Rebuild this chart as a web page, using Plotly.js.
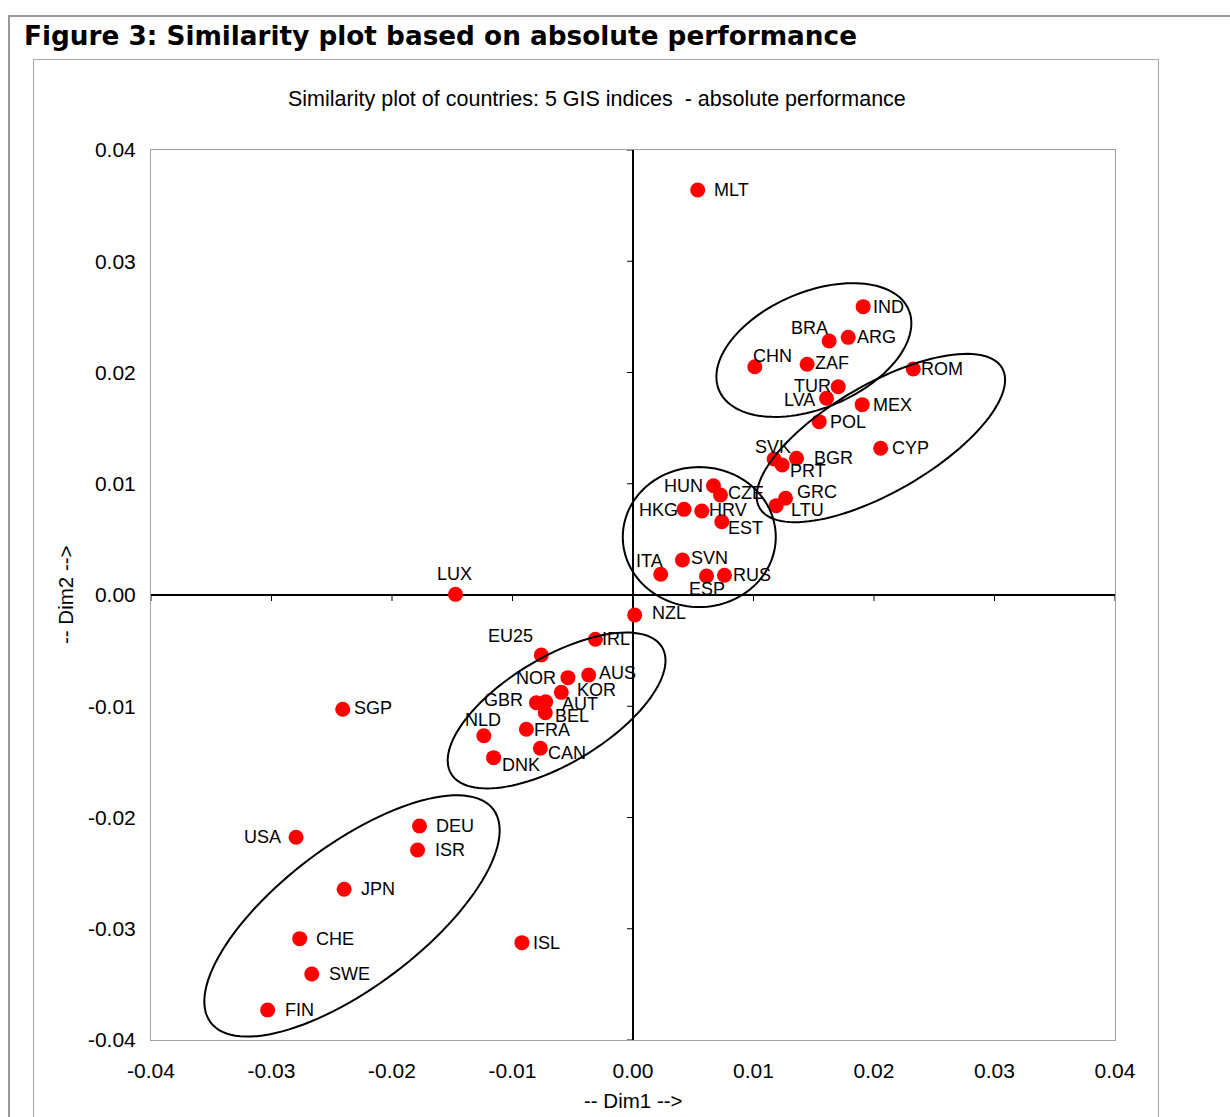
<!DOCTYPE html>
<html>
<head>
<meta charset="utf-8">
<script src="https://cdn.plot.ly/plotly-3.0.1.min.js"></script>
<style>
  html, body { margin: 0; padding: 0; background: #ffffff; }
  #wrap { position: relative; width: 1230px; height: 1117px; overflow: hidden; background: #fff; }
  #outer { position: absolute; left: 8px; top: 15px; width: 1300px; height: 1300px;
           border-top: 2px solid #9a9a9a; border-left: 2px solid #9a9a9a; }
  #box { position: absolute; left: 33px; top: 59px; width: 1124px; height: 1300px;
         border: 1.5px solid #a6a6a6; }
  #plot { position: absolute; left: 0; top: 0; width: 1230px; height: 1117px; }
</style>
</head>
<body>
<div id="wrap">
  <div id="outer"></div>
  <div id="box"></div>
  <div id="plot"></div>
</div>
<script>
// ---- data ----
const countries = ["MLT","IND","BRA","ARG","CHN","ZAF","TUR","LVA","ROM","MEX","POL","CYP",
  "SVK","BGR","PRT","HUN","CZE","GRC","LTU","HKG","HRV","EST","ITA","SVN","ESP","RUS",
  "LUX","NZL","IRL","EU25","NOR","AUS","KOR","GBR","AUT","BEL","NLD","FRA","CAN","DNK",
  "SGP","USA","DEU","ISR","JPN","CHE","SWE","FIN","ISL"];
const dim1 = [0.00537,0.01910,0.01628,0.01786,0.01011,0.01445,0.01703,0.01606,0.02326,0.01902,0.01545,0.02055,
  0.01171,0.01357,0.01238,0.00668,0.00726,0.01266,0.01188,0.00424,0.00571,0.00737,0.00230,0.00410,0.00610,0.00759,
  -0.01473,0.00014,-0.00312,-0.00761,-0.00540,-0.00368,-0.00595,-0.00802,-0.00725,-0.00728,-0.01238,-0.00885,-0.00769,-0.01157,
  -0.02409,-0.02796,-0.01772,-0.01788,-0.02397,-0.02766,-0.02666,-0.03032,-0.00922];
const dim2 = [0.03640,0.02592,0.02283,0.02316,0.02052,0.02074,0.01872,0.01768,0.02031,0.01711,0.01558,0.01319,
  0.01222,0.01229,0.01169,0.00982,0.00899,0.00869,0.00803,0.00770,0.00755,0.00659,0.00186,0.00315,0.00171,0.00177,
  0.00006,-0.00180,-0.00398,-0.00539,-0.00743,-0.00719,-0.00875,-0.00968,-0.00959,-0.01058,-0.01265,-0.01207,-0.01378,-0.01462,
  -0.01027,-0.02178,-0.02076,-0.02292,-0.02645,-0.03089,-0.03407,-0.03730,-0.03125];
const tickVals = [-0.04,-0.03,-0.02,-0.01,0,0.01,0.02,0.03,0.04];
const tickText = ["-0.04","-0.03","-0.02","-0.01","0.00","0.01","0.02","0.03","0.04"];

// ---- label placement (style): anchor, dx px (right +), dy px (down +) ----
const labelStyle = {
  MLT:["l",16,0], IND:["l",10,0], BRA:["r",-1,-13], ARG:["l",9,0], CHN:["l",-2,-11], ZAF:["l",8,-1],
  TUR:["r",-7,-1], LVA:["r",-12,2], ROM:["l",8,0], MEX:["l",11,0], POL:["l",11,0], CYP:["l",11,0],
  SVK:["c",-1,-12], BGR:["l",17,0], PRT:["l",8,6], HUN:["r",-10,0], CZE:["l",8,-2], GRC:["l",11,-6],
  LTU:["l",15,4], HKG:["r",-6,1], HRV:["l",7,-1], EST:["l",6,6], ITA:["r",2,-13], SVN:["l",9,-2],
  ESP:["c",0,13], RUS:["l",9,0], LUX:["c",-1,-20], NZL:["l",17,-2], IRL:["l",7,0], EU25:["r",-8,-19],
  NOR:["r",-12,0], AUS:["l",10,-2], KOR:["l",16,-2], GBR:["r",-13,-3], AUT:["l",16,2], BEL:["l",10,3],
  NLD:["c",-1,-16], FRA:["l",8,1], CAN:["l",8,5], DNK:["l",8,7], SGP:["l",11,-1], USA:["r",-15,0],
  DEU:["l",17,0], ISR:["l",17,0], JPN:["l",17,0], CHE:["l",16,0], SWE:["l",17,0], FIN:["l",17,0], ISL:["l",11,0]
};

// ---- geometry ----
const W = 1230, H = 1117;
const M = {l:151, r:115, t:150, b:77};
const PW = W - M.l - M.r, PH = H - M.t - M.b;
const kx = PW / 0.08, ky = PH / 0.08;
const px2x = p => (p - M.l) / PW;
const py2y = p => (H - M.b - p) / PH;

// ellipses: center (data), semi-axes (px), angle (deg, counter-clockwise on screen)
const ellipses = [
  [0.01501, 0.02202, 103, 58, 23],
  [0.02057, 0.01411, 140, 54, 30],
  [0.00550, 0.00521, 76.5, 70, 0],
  [-0.00634, -0.01038, 123, 53, 31],
  [-0.02332, -0.02885, 177, 71, 37]
];
function ellipsePath(e) {
  const [cx, cy, a, b, deg] = e;
  const th = deg * Math.PI / 180;
  let d = "";
  const n = 120;
  for (let i = 0; i <= n; i++) {
    const t = 2 * Math.PI * i / n;
    const ux = a * Math.cos(t) * Math.cos(th) - b * Math.sin(t) * Math.sin(th);
    const uy = a * Math.cos(t) * Math.sin(th) + b * Math.sin(t) * Math.cos(th);
    const x = cx + ux / kx, y = cy + uy / ky;
    d += (i === 0 ? "M" : "L") + x.toFixed(6) + "," + y.toFixed(6);
  }
  return d + "Z";
}

const FONT = "Liberation Sans, Arial, sans-serif";
const shapes = [];
ellipses.forEach(e => shapes.push({type:"path", xref:"x", yref:"y", path: ellipsePath(e),
  line:{color:"#000", width:2}, fillcolor:"rgba(0,0,0,0)", layer:"above"}));
tickVals.forEach(v => {
  shapes.push({type:"line", xref:"x", yref:"y", x0:v, x1:v, ysizemode:"pixel", yanchor:0, y0:0, y1:-6,
    line:{color:"#000", width:1}});
  shapes.push({type:"line", xref:"x", yref:"y", y0:v, y1:v, xsizemode:"pixel", xanchor:0, x0:0, x1:-6,
    line:{color:"#000", width:1}});
});

const annotations = countries.map((c, i) => {
  const s = labelStyle[c];
  return {x: dim1[i], y: dim2[i], xref:"x", yref:"y", text: c, showarrow:false,
    xanchor: s[0] === "l" ? "left" : (s[0] === "r" ? "right" : "center"), yanchor:"middle",
    xshift: s[1], yshift: -s[2], borderpad:0, borderwidth:0,
    font:{family:FONT, size:18, color:"#000"}};
});
annotations.push({xref:"paper", yref:"paper", x: px2x(24), y: py2y(36.5), xanchor:"left", yanchor:"middle",
  text:"<b>Figure 3: Similarity plot based on absolute performance</b>", showarrow:false, borderpad:0, borderwidth:0,
  font:{family:"DejaVu Sans, Verdana, sans-serif", size:26.3, color:"#000"}});
annotations.push({xref:"paper", yref:"paper", x: px2x(596.5), y: py2y(99), xanchor:"center", yanchor:"middle",
  text:"Similarity plot of countries: 5 GIS indices  - absolute performance", showarrow:false, borderpad:0, borderwidth:0,
  font:{family:FONT, size:21.5, color:"#000"}});
annotations.push({xref:"paper", yref:"paper", x: px2x(633.5), y: py2y(1100), xanchor:"center", yanchor:"middle",
  text:"-- Dim1 -->", showarrow:false, borderpad:0, borderwidth:0, font:{family:FONT, size:20.5, color:"#000"}});
annotations.push({xref:"paper", yref:"paper", x: px2x(65), y: py2y(595), xanchor:"center", yanchor:"middle",
  text:"-- Dim2 -->", textangle:-90, showarrow:false, borderpad:0, borderwidth:0, font:{family:FONT, size:20.5, color:"#000"}});

const trace = {x: dim1, y: dim2, text: countries, type:"scatter", mode:"markers",
  marker:{size:15, color:"#ff0000", line:{width:0}}, hoverinfo:"text", cliponaxis:false};

const axisCommon = {range:[-0.04, 0.04], tickvals: tickVals, ticktext: tickText, showgrid:false,
  zeroline:true, zerolinecolor:"#000", zerolinewidth:1.3, showline:true, mirror:true,
  linecolor:"#a0a0a0", linewidth:1, ticks:"", fixedrange:true,
  tickfont:{family:FONT, size:21, color:"#000"}};

const layout = {
  width: W, height: H, margin: M, autosize:false,
  paper_bgcolor:"rgba(0,0,0,0)", plot_bgcolor:"#ffffff",
  showlegend:false,
  xaxis: Object.assign({}, axisCommon, {ticklabelstandoff: 12}),
  yaxis: Object.assign({}, axisCommon, {ticklabelstandoff: 10}),
  shapes: shapes, annotations: annotations
};
Plotly.newPlot("plot", [trace], layout, {displayModeBar:false, staticPlot:true});
</script>
</body>
</html>
